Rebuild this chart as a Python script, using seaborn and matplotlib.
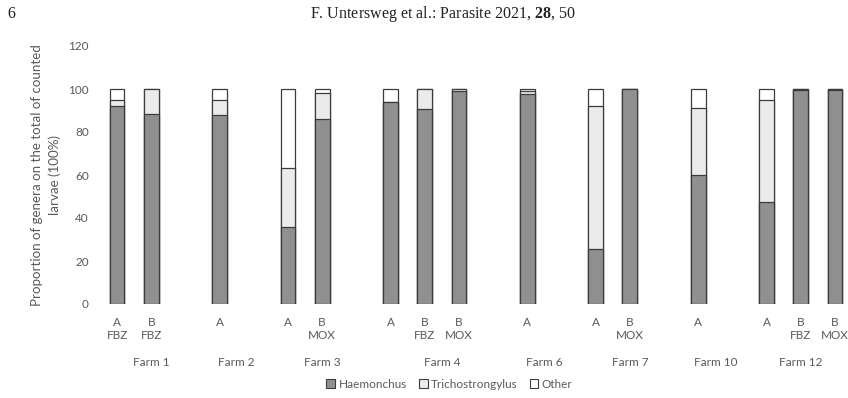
import pandas as pd
import matplotlib
matplotlib.use("Agg")
import matplotlib.pyplot as plt
import matplotlib.patches as mpatches
import seaborn as sns

# per-bar data, in the order they appear on the chart
farms = ["Farm 1", "Farm 1", "Farm 2", "Farm 3", "Farm 3", "Farm 4", "Farm 4", "Farm 4",
         "Farm 6", "Farm 7", "Farm 7", "Farm 10", "Farm 12", "Farm 12", "Farm 12"]
groups = ["A", "B", "A", "A", "B", "A", "B", "B", "A", "A", "B", "A", "A", "B", "B"]
drugs = ["FBZ", "FBZ", "", "", "MOX", "", "FBZ", "MOX", "", "", "MOX", "", "", "FBZ", "MOX"]
haemonchus = [92, 88.3, 88, 35.8, 86, 94.1, 90.6, 99.3, 97.5, 25.5, 100, 60.2, 47.4, 99.5, 99.5]
trichostrongylus = [3, 11.7, 7, 27.5, 12.3, 0, 9.4, 0.7, 1.5, 66.5, 0, 30.8, 47.6, 0.5, 0.5]
other = [5, 0, 5, 36.7, 1.7, 5.9, 0, 0, 1, 8, 0, 9, 5, 0, 0]

legend_labels = ["Haemonchus", "Trichostrongylus", "Other"]

sns.set_style("white")
plt.rcParams["font.family"] = ["Lato", "DejaVu Sans"]
plt.rcParams["mathtext.fontset"] = "custom"
plt.rcParams["mathtext.rm"] = "Liberation Serif"
plt.rcParams["mathtext.bf"] = "Liberation Serif:bold"

text_grey = "#595959"
edge = "#3c3c3c"
fills = ["#909090", "#ebebeb", "#ffffff"]

# slot positions: one empty slot between farms (Excel style blank rows)
positions = []
slot = 0
for i, farm in enumerate(farms):
    if i > 0 and farm != farms[i - 1]:
        slot += 1
    positions.append(slot)
    slot += 1

df = pd.DataFrame({
    "pos": positions,
    "haem": haemonchus,
    "trich": trichostrongylus,
    "other": other,
})
df["cum_trich"] = df["haem"] + df["trich"]
df["cum_other"] = df["cum_trich"] + df["other"]

fig = plt.figure(figsize=(8.48, 3.98), dpi=100)
ax = fig.add_axes([100 / 848, 94 / 398, 752 / 848, 258 / 398])

for col, fc in zip(["cum_other", "cum_trich", "haem"], fills[::-1]):
    sns.barplot(data=df, x="pos", y=col, native_scale=True, width=0.43,
                color=fc, saturation=1, edgecolor=edge, linewidth=0.9,
                errorbar=None, ax=ax)

ax.set_xlim(-0.5, positions[-1] + 0.5)
ax.set_ylim(0, 120)
ax.set_yticks(range(0, 121, 20))
ax.set_xticks(positions)
ax.set_xticklabels([g + ("\n" + d if d else "") for g, d in zip(groups, drugs)],
                   linespacing=1.25)
ax.tick_params(axis="both", length=0, labelsize=8.5, colors=text_grey)
ax.tick_params(axis="y", pad=8)
ax.tick_params(axis="x", pad=9)
for lbl in ax.get_xticklabels():
    lbl.set_verticalalignment("top")
ax.set_xlabel("")
ax.set_ylabel("Proportion of genera on the total of counted\nlarvae (100%)",
              fontsize=9.6, color=text_grey, labelpad=5, linespacing=1.55)
sns.despine(ax=ax, left=True, bottom=True)

# farm group labels under the tick labels
farm_order = list(dict.fromkeys(farms))
for k, farm in enumerate(farm_order):
    slots = [p for p, f in zip(positions, farms) if f == farm]
    last = slots[-1] + (1 if k < len(farm_order) - 1 else 0)
    center = (slots[0] + last) / 2
    ax.annotate(farm, xy=(center, 0), xycoords=("data", "axes fraction"),
                xytext=(0, -42), textcoords="offset points",
                ha="center", va="center", fontsize=8.5, color=text_grey)

handles = [mpatches.Patch(facecolor=fc, edgecolor=edge, linewidth=0.8) for fc in fills]
fig.legend(handles, legend_labels, loc="center", bbox_to_anchor=(0.53, 0.035),
           ncol=3, frameon=False, fontsize=8.5, labelcolor=text_grey,
           handlelength=0.75, handleheight=0.75, handletextpad=0.3,
           columnspacing=1.0)

# page header
fig.text(11 / 848, 1 - 14 / 398, "6", fontfamily="Liberation Serif",
         fontsize=11.5, ha="center", va="center", color="#222222")
fig.text(443 / 848, 1 - 14 / 398,
         r"F. Untersweg et al.: Parasite 2021, $\mathbf{28}$, 50",
         fontfamily="Liberation Serif", fontsize=11.5, ha="center", va="center",
         color="#222222")

fig.savefig("out.png", dpi=100)
